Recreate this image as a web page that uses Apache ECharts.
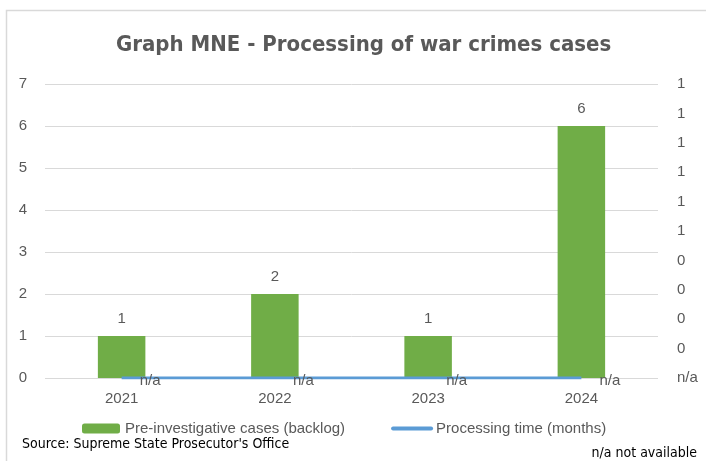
<!DOCTYPE html>
<html>
<head>
<meta charset="utf-8">
<script src="https://cdn.jsdelivr.net/npm/echarts@6/dist/echarts.min.js"></script>
<style>
  html, body { margin: 0; padding: 0; background: #fff; }
  #chart { width: 706px; height: 461px; }
</style>
</head>
<body>
<div id="chart"></div>
<script>
// values
const years = ["2021", "2022", "2023", "2024"];
const backlog = [1, 2, 1, 6];
const procTime = [0, 0, 0, 0]; // not available -> drawn at zero, labelled n/a

const TXT = "#595959";
const FONT = "'Liberation Sans', Arial, sans-serif";
const NARROW = "'Liberation Sans Narrow', 'DejaVu Sans Condensed', sans-serif";

const chart = echarts.init(document.getElementById("chart"));
chart.setOption({
  backgroundColor: "#fff",
  animation: false,
  textStyle: { fontFamily: FONT, color: TXT },
  title: {
    text: "Graph MNE - Processing of war crimes cases",
    left: 111, top: 29,
    textStyle: { fontFamily: NARROW, fontSize: 22, fontWeight: "bold", color: TXT },
  },
  grid: { left: 45, right: 48, top: 84, bottom: 83 },
  legend: {
    left: 77, top: 416, itemWidth: 38, itemHeight: 10, itemGap: 46,
    textStyle: { fontSize: 15, color: TXT, fontFamily: FONT },
    data: [
      { name: "Pre-investigative cases (backlog)" },
      { name: "Processing time (months)", itemStyle: { opacity: 0 }, lineStyle: { width: 4, cap: "round" } },
    ],
  },
  xAxis: {
    type: "category", data: years,
    axisLine: { show: false }, axisTick: { show: false },
    axisLabel: { fontSize: 15, color: TXT, margin: 13 },
  },
  yAxis: [
    {
      type: "value", min: 0, max: 7, interval: 1,
      axisLine: { show: false }, axisTick: { show: false },
      axisLabel: { fontSize: 15, color: TXT, margin: 18 },
      splitLine: { lineStyle: { color: "#D9D9D9", width: 1 } },
    },
    {
      type: "value", min: 0, max: 1, interval: 0.1, position: "right",
      axisLine: { show: false }, axisTick: { show: false },
      splitLine: { show: false },
      axisLabel: {
        fontSize: 15, color: TXT, margin: 19,
        formatter: (v) => (v < 1e-9 ? "n/a" : String(Math.round(v + 1e-9))),
      },
    },
  ],
  series: [
    {
      name: "Pre-investigative cases (backlog)", type: "bar", data: backlog,
      barWidth: "31%", itemStyle: { color: "#70AD47" },
      label: { show: true, position: "top", distance: 10, fontSize: 15, color: TXT },
    },
    {
      name: "Processing time (months)", type: "line", yAxisIndex: 1, data: procTime,
      symbol: "circle", symbolSize: 0.1, showSymbol: true,
      lineStyle: { color: "#5B9BD5", width: 3 },
      itemStyle: { color: "#5B9BD5" }, z: 3,
      label: {
        show: true, position: "right", distance: 18, offset: [0, 3],
        formatter: "n/a", fontSize: 15, color: TXT,
      },
    },
  ],
  graphic: [
    { type: "rect", shape: { x: 6.5, y: 10.5, width: 760, height: 500 },
      style: { fill: "none", stroke: "#D9D9D9", lineWidth: 1.5 }, silent: true },
    { type: "text", left: 22, top: 437,
      style: { text: "Source: Supreme State Prosecutor's Office", fontFamily: NARROW, fontSize: 14, fill: "#000" } },
    { type: "text", right: 9, top: 446,
      style: { text: "n/a not available", fontFamily: NARROW, fontSize: 14, fill: "#000" } },
  ],
});
</script>
</body>
</html>
